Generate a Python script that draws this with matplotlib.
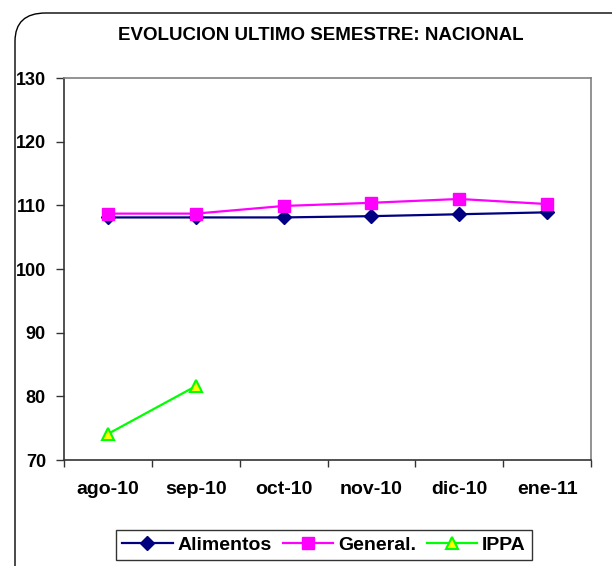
import matplotlib
matplotlib.use("Agg")
from matplotlib import pyplot as plt
from matplotlib.patches import FancyBboxPatch
import numpy as np

plt.rcParams['font.family'] = ['Liberation Sans', 'DejaVu Sans']

# Data
months = ["ago-10", "sep-10", "oct-10", "nov-10", "dic-10", "ene-11"]
alimentos = [108.1, 108.1, 108.1, 108.3, 108.6, 108.9]
general = [108.7, 108.7, 109.9, 110.4, 111.0, 110.2]
ippa = [74.1, 81.6]

W, H = 612, 566
fig = plt.figure(figsize=(W / 100, H / 100), dpi=100)

# rounded outer frame of the chart area
frame = FancyBboxPatch((15 / W, 1 - 600 / H), 640 / W, 587 / H,
                       boxstyle="round,pad=0,rounding_size=0.05",
                       transform=fig.transFigure, facecolor="none",
                       edgecolor="black", linewidth=1.0)
fig.patches.append(frame)

# plot area
left, right, top, bottom = 64, 591, 78, 460
ax = fig.add_axes([left / W, 1 - bottom / H, (right - left) / W, (bottom - top) / H])

x = np.arange(len(months))
ax.plot(x, alimentos, color="#000080", marker="D", markersize=7, linewidth=1.6,
        label="Alimentos")
ax.plot(x, general, color="#FF00FF", marker="s", markersize=8, linewidth=1.6,
        label="General.")
ax.plot(x[:len(ippa)], ippa, color="#00FF00", marker="^", markersize=9,
        markerfacecolor="#FFFF00", markeredgecolor="#00FF00", markeredgewidth=1.5,
        linewidth=1.6, label="IPPA")

ax.set_xlim(-0.5, len(months) - 0.5)
ax.set_ylim(70, 130)
ax.set_yticks(np.arange(70, 131, 10))
ax.set_xticks(x)
ax.set_xticklabels(months)
ax.set_xticks(np.arange(-0.5, len(months), 1), minor=True)
ax.tick_params(axis="x", which="major", length=0, pad=15, labelsize=14)
ax.tick_params(axis="x", which="minor", length=5, width=1, color="#333333")
ax.tick_params(axis="y", length=6, width=1, color="#333333", labelsize=13, pad=7)
for lab in ax.get_xticklabels() + ax.get_yticklabels():
    lab.set_fontweight("bold")

for side in ["top", "right"]:
    ax.spines[side].set_color("#808080")
    ax.spines[side].set_linewidth(1.2)
for side in ["left", "bottom"]:
    ax.spines[side].set_color("#333333")
    ax.spines[side].set_linewidth(1.2)

fig.text(321 / W, 1 - 35 / H, "EVOLUCION ULTIMO SEMESTRE: NACIONAL",
         ha="center", va="center", fontsize=13.5, fontweight="bold")

leg = fig.legend(loc="center", bbox_to_anchor=(324 / W, 1 - 545 / H), ncol=3,
                 frameon=True, fancybox=False, edgecolor="black",
                 prop={"weight": "bold", "size": 14}, handlelength=2.6,
                 columnspacing=0.55, handletextpad=0.25, borderpad=0.3,
                 borderaxespad=0)
leg.get_frame().set_linewidth(1.0)

fig.savefig("out.png", dpi=100)
